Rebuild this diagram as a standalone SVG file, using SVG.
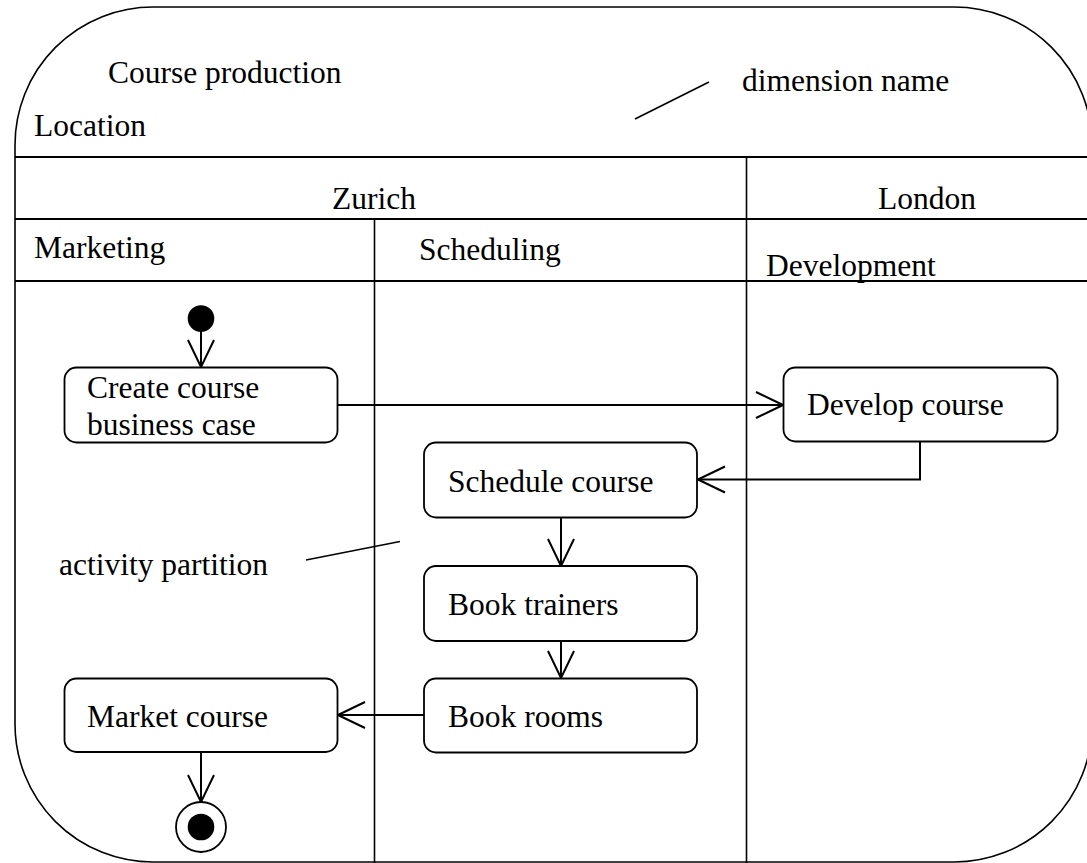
<svg xmlns="http://www.w3.org/2000/svg" width="1087" height="863" viewBox="0 0 1087 863">
  <style>
    text { font-family: "Liberation Serif", "Times New Roman", serif; font-size: 31.5px; fill: #000; }
    .frame { fill: none; stroke: #000; stroke-width: 1.6; }
    .hline { stroke: #000; stroke-width: 2.2; }
    .vline { stroke: #000; stroke-width: 1.6; }
    .action { fill: #fff; stroke: #000; stroke-width: 1.8; }
    .edge { fill: none; stroke: #000; stroke-width: 2; }
    .note { fill: none; stroke: #000; stroke-width: 1.6; }
  </style>
  <defs>
    <marker id="open" viewBox="0 0 30 30" refX="28" refY="15" markerWidth="30" markerHeight="30" markerUnits="userSpaceOnUse" orient="auto">
      <path d="M1,2 L28,15 L1,28" fill="none" stroke="#000" stroke-width="2"/>
    </marker>
  </defs>

  <rect width="1087" height="863" fill="#fff"/>

  <!-- partition frame -->
  <g id="frame">
    <rect class="frame" x="15" y="7" width="1077" height="855" rx="138" ry="138"/>
    <line class="hline" x1="15" y1="157" x2="1092" y2="157"/>
    <line class="hline" x1="15" y1="219" x2="1092" y2="219"/>
    <line class="hline" x1="15" y1="281" x2="1092" y2="281"/>
    <line class="vline" x1="746.5" y1="157" x2="746.5" y2="863"/>
    <line class="vline" x1="374.5" y1="219" x2="374.5" y2="863"/>
  </g>

  <!-- headers and annotations -->
  <g id="labels">
    <text x="108" y="83">Course production</text>
    <text x="34" y="136">Location</text>
    <text x="742" y="91">dimension name</text>
    <line class="note" x1="635" y1="119" x2="709" y2="82"/>
    <text x="332" y="209">Zurich</text>
    <text x="878" y="209">London</text>
    <text x="34" y="258">Marketing</text>
    <text x="419" y="260">Scheduling</text>
    <text x="766" y="276">Development</text>
    <text x="59" y="575">activity partition</text>
    <line class="note" x1="306" y1="560" x2="400" y2="541.5"/>
  </g>

  <!-- control flows -->
  <g id="connectors">
    <line class="edge" x1="201" y1="331" x2="201" y2="367" marker-end="url(#open)"/>
    <line class="edge" x1="338" y1="405" x2="783" y2="405" marker-end="url(#open)"/>
    <polyline class="edge" points="920,442 920,479.5 698,479.5" marker-end="url(#open)"/>
    <line class="edge" x1="561" y1="517" x2="561" y2="566" marker-end="url(#open)"/>
    <line class="edge" x1="561" y1="641" x2="561" y2="678" marker-end="url(#open)"/>
    <line class="edge" x1="424" y1="715" x2="338" y2="715" marker-end="url(#open)"/>
    <line class="edge" x1="201" y1="752" x2="201" y2="802" marker-end="url(#open)"/>
  </g>

  <g id="initial">
    <circle cx="201" cy="318.5" r="13.3" fill="#000"/>
  </g>

  <g id="create-course-business-case">
    <rect class="action" x="64.5" y="367.5" width="273" height="75" rx="12"/>
    <text x="87" y="398">Create course</text>
    <text x="87" y="435">business case</text>
  </g>

  <g id="develop-course">
    <rect class="action" x="783.5" y="367.5" width="274" height="74" rx="12"/>
    <text x="807" y="415">Develop course</text>
  </g>

  <g id="schedule-course">
    <rect class="action" x="424" y="442.5" width="273" height="75" rx="12"/>
    <text x="448" y="492">Schedule course</text>
  </g>

  <g id="book-trainers">
    <rect class="action" x="424" y="566" width="273" height="75" rx="12"/>
    <text x="448" y="615">Book trainers</text>
  </g>

  <g id="book-rooms">
    <rect class="action" x="424" y="678.5" width="273" height="74" rx="12"/>
    <text x="448" y="727">Book rooms</text>
  </g>

  <g id="market-course">
    <rect class="action" x="64.5" y="678.5" width="273" height="73.5" rx="12"/>
    <text x="87" y="727">Market course</text>
  </g>

  <g id="final">
    <circle cx="201" cy="827" r="25" fill="#fff" stroke="#000" stroke-width="1.8"/>
    <circle cx="201" cy="827" r="13.3" fill="#000"/>
  </g>
</svg>
